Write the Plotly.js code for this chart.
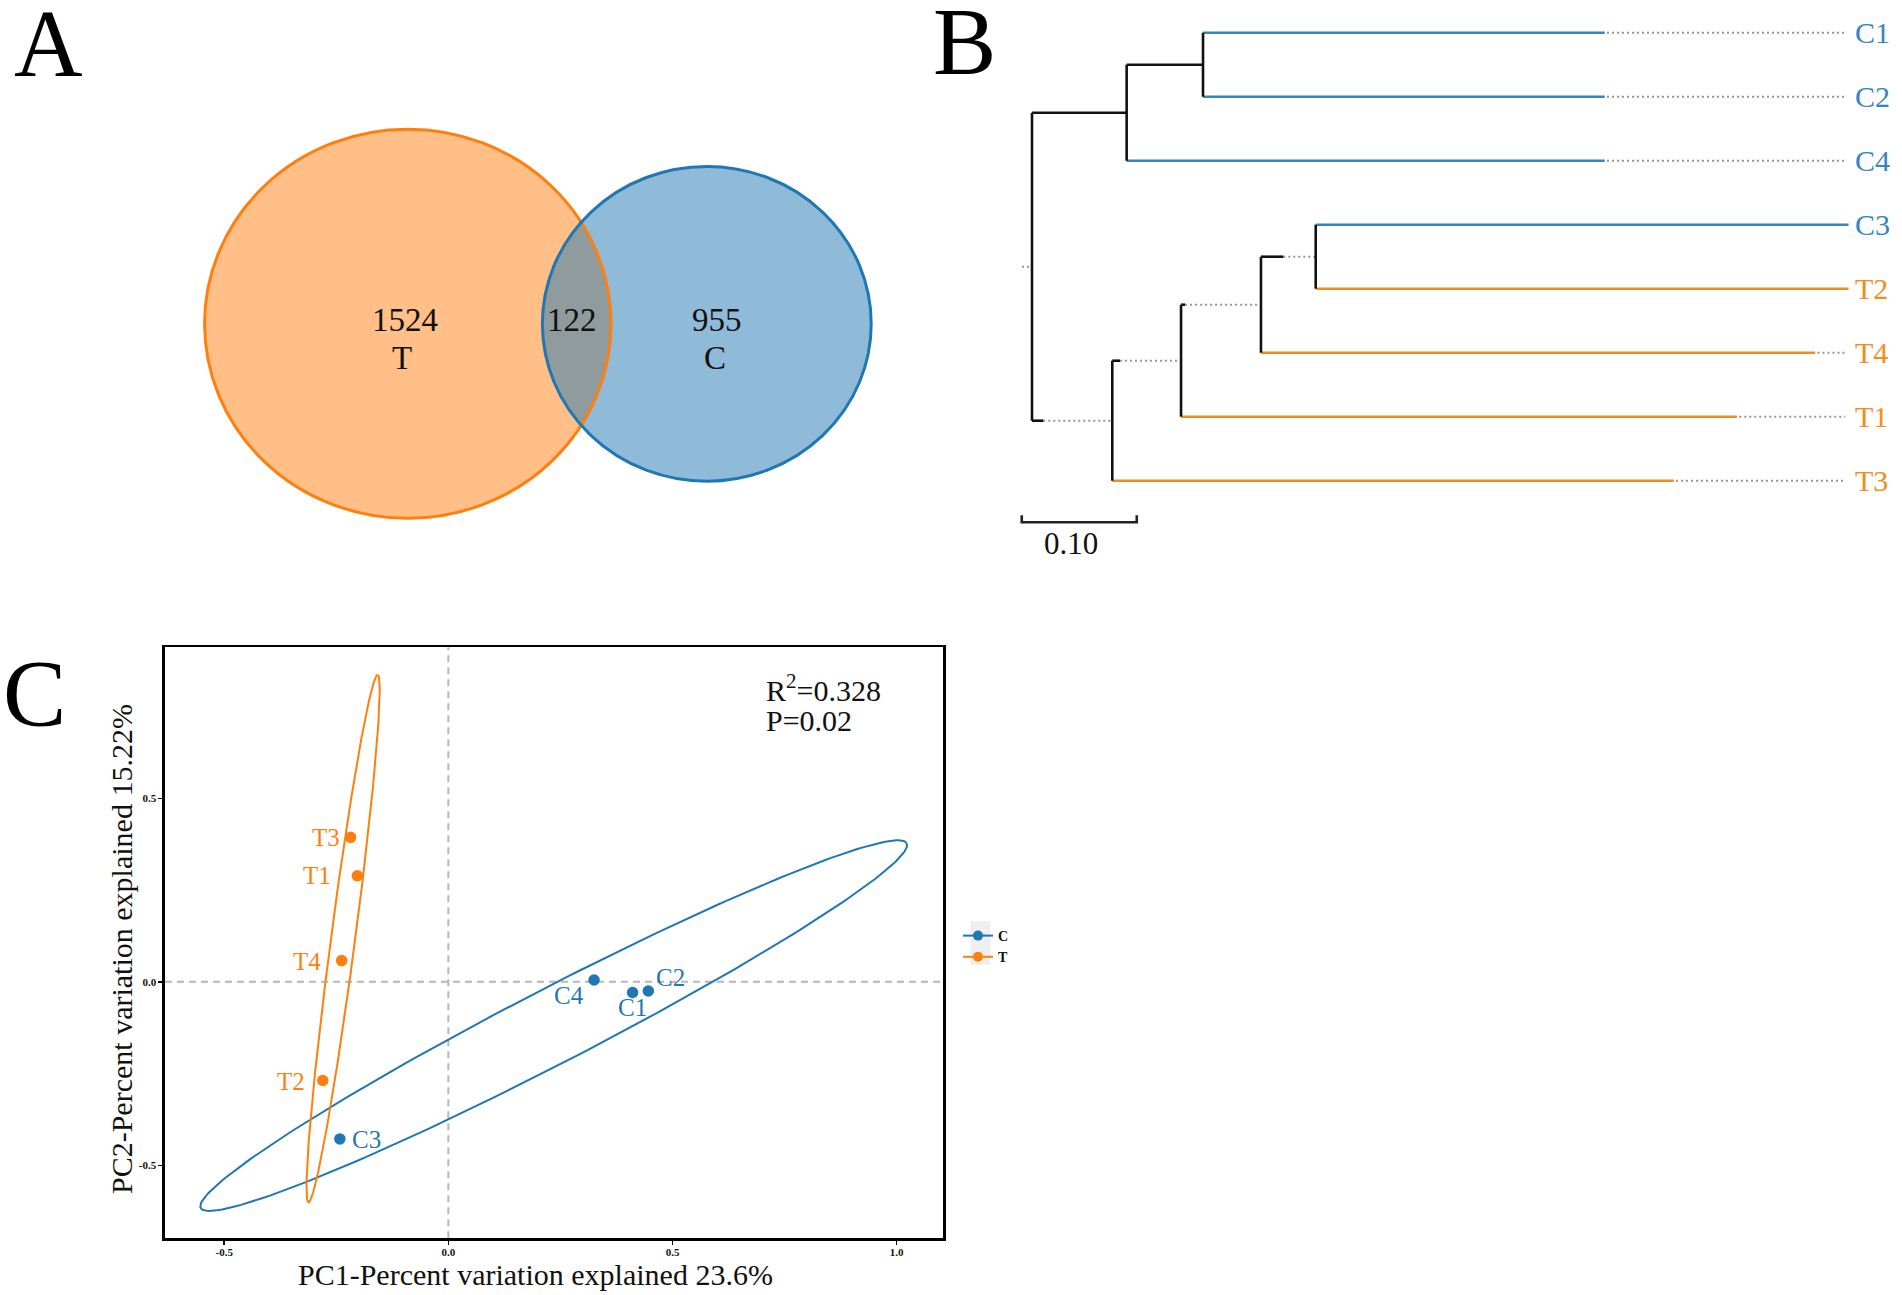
<!DOCTYPE html>
<html><head><meta charset="utf-8">
<script src="https://cdn.plot.ly/plotly-3.0.1.min.js"></script>
<style>html,body{margin:0;padding:0;background:#fff}</style>
</head><body><div id="chart" style="width:1902px;height:1295px"></div>
<script>
// ---------------- DATA ----------------
// Panel A: Venn
const vennSets = ['T', 'C'];
const vennUnique = [1524, 955];
const vennShared = 122;

// Panel B: clustering tree
const leafNames  = ['C1', 'C2', 'C4', 'C3', 'T2', 'T4', 'T1', 'T3'];
const leafGroup  = ['C', 'C', 'C', 'C', 'T', 'T', 'T', 'T'];
const leafParent = ['A', 'A', 'B', 'G', 'G', 'F', 'E', 'D'];
const leafDepth  = [0.498, 0.498, 0.498, 0.710, 0.710, 0.681, 0.613, 0.558];
const nodeNames  = ['root', 'B', 'A', 'D', 'E', 'F', 'G'];
const nodeParent = [null, 'root', 'B', 'root', 'D', 'E', 'F'];
const nodeDepth  = [0, 0.0823, 0.1487, 0.0698, 0.1296, 0.1991, 0.2467];
const scaleBarLength = 0.10;
const scaleBarLabel = '0.10';

// Panel C: PCoA
const sampleNames = ['C1', 'C2', 'C3', 'C4', 'T1', 'T2', 'T3', 'T4'];
const sampleGroup = ['C', 'C', 'C', 'C', 'T', 'T', 'T', 'T'];
const pc1 = [0.411, 0.446, -0.242, 0.325, -0.203, -0.280, -0.218, -0.238];
const pc2 = [-0.029, -0.025, -0.428, 0.005, 0.289, -0.269, 0.394, 0.058];
const xTickVals = [-0.5, 0, 0.5, 1.0];
const xTickText = ['-0.5', '0.0', '0.5', '1.0'];
const yTickVals = [-0.5, 0, 0.5];
const yTickText = ['-0.5', '0.0', '0.5'];
const statLines = ['R<sup>2</sup>=0.328', 'P=0.02'];
const xTitle = 'PC1-Percent variation explained 23.6%';
const yTitle = 'PC2-Percent variation explained 15.22%';

// ---------------- STYLE ----------------
const W = 1902, H = 1295;
const px = v => v / W;
const py = v => 1 - v / H;
const SERIF = 'Liberation Serif, Times New Roman, serif';
const pcaColor  = {C: '#1f77b4', T: '#ff7f0e'};
const treeColor = {C: '#3585c3', T: '#f48c1c'};
const DOT = 'rgb(150,150,150)';

const traces = [];
const shapes = [];
const annotations = [];

// ---------------- PANEL A: Venn ----------------
const vennTotals = [vennUnique[0] + vennShared, vennUnique[1] + vennShared];
const kR = 4.794, stretch = 1.045;
const vennCenters = [[407.8, 323.8], [706.8, 323.8]];
const vennFill = ['rgba(255,127,14,0.5)', 'rgba(31,119,180,0.5)'];
const vennLine = ['#ff7f0e', '#1f77b4'];
vennTotals.forEach((tot, i) => {
  const ry = kR * Math.sqrt(tot), rx = ry * stretch;
  const [cx, cy] = vennCenters[i];
  shapes.push({type: 'circle', xref: 'x3', yref: 'y3', x0: cx - rx, x1: cx + rx, y0: cy - ry, y1: cy + ry,
    fillcolor: vennFill[i], line: {width: 0}, layer: 'above'});
});
vennTotals.forEach((tot, i) => {
  const ry = kR * Math.sqrt(tot), rx = ry * stretch;
  const [cx, cy] = vennCenters[i];
  shapes.push({type: 'circle', xref: 'x3', yref: 'y3', x0: cx - rx, x1: cx + rx, y0: cy - ry, y1: cy + ry,
    fillcolor: 'rgba(0,0,0,0)', line: {width: 3, color: vennLine[i]}, layer: 'above'});
});
const vennFont = {family: SERIF, size: 33, color: '#111'};
annotations.push(
  {xref: 'x3', yref: 'y3', x: 405, y: 320, text: String(vennUnique[0]), showarrow: false, font: vennFont},
  {xref: 'x3', yref: 'y3', x: 401.5, y: 358, text: vennSets[0], showarrow: false, font: vennFont},
  {xref: 'x3', yref: 'y3', x: 571.5, y: 320, text: String(vennShared), showarrow: false, font: vennFont},
  {xref: 'x3', yref: 'y3', x: 716.7, y: 320, text: String(vennUnique[1]), showarrow: false, font: vennFont},
  {xref: 'x3', yref: 'y3', x: 714.5, y: 358, text: vennSets[1], showarrow: false, font: vennFont}
);
traces.push({type: 'scatter', x: [null], y: [null], xaxis: 'x3', yaxis: 'y3', showlegend: false, hoverinfo: 'skip'});

// ---------------- PANEL B: Tree ----------------
const nodeIdx = {};
nodeNames.forEach((n, i) => nodeIdx[n] = i);
const branchStyle = {B: 'solid', A: 'solid', D: 'dotted', E: 'dotted', F: 'dotted', G: 'dotted'};
const branchStub  = {D: 0.0098, E: 0.0067, F: 0.0035, G: 0.0194};
const rootEdge = 0.0087;
const alignDepth = 0.7072;

const nodeY = {};
function yOf(name) {
  if (nodeY[name] !== undefined) return nodeY[name];
  const kids = [];
  leafParent.forEach((p, i) => { if (p === name) kids.push(i); });
  nodeParent.forEach((p, i) => { if (p === name) kids.push(yOf(nodeNames[i])); });
  const v = (Math.min(...kids) + Math.max(...kids)) / 2;
  nodeY[name] = v;
  return v;
}
nodeNames.forEach(n => yOf(n));
function childYs(name) {
  const ys = [];
  leafParent.forEach((p, i) => { if (p === name) ys.push(i); });
  nodeParent.forEach((p, i) => { if (p === name) ys.push(nodeY[nodeNames[i]]); });
  return ys;
}
const blk = {x: [], y: []}, dots = {x: [], y: []};
const colored = {C: {x: [], y: []}, T: {x: [], y: []}};
nodeNames.forEach((n, i) => {
  const ys = childYs(n), d = nodeDepth[i];
  blk.x.push(d, d, null); blk.y.push(Math.min(...ys), Math.max(...ys), null);
  const par = nodeParent[i];
  if (par !== null) {
    const pd = nodeDepth[nodeIdx[par]], y = nodeY[n];
    if (branchStyle[n] === 'solid') {
      blk.x.push(pd, d, null); blk.y.push(y, y, null);
    } else {
      const s = pd + branchStub[n];
      blk.x.push(pd, s, null); blk.y.push(y, y, null);
      dots.x.push(s, d, null); dots.y.push(y, y, null);
    }
  } else {
    dots.x.push(-rootEdge, 0, null); dots.y.push(nodeY[n], nodeY[n], null);
  }
});
leafNames.forEach((l, i) => {
  const pd = nodeDepth[nodeIdx[leafParent[i]]];
  const c = colored[leafGroup[i]];
  c.x.push(pd, leafDepth[i], null); c.y.push(i, i, null);
  if (leafDepth[i] < alignDepth - 0.003) {
    dots.x.push(leafDepth[i] + 0.002, alignDepth, null); dots.y.push(i, i, null);
  }
  annotations.push({xref: 'x2', yref: 'y2', x: alignDepth, y: i, xshift: 8, xanchor: 'left', yanchor: 'middle',
    text: l, showarrow: false, font: {family: SERIF, size: 30, color: treeColor[leafGroup[i]]}});
});
traces.push({type: 'scatter', mode: 'lines', x: dots.x, y: dots.y, xaxis: 'x2', yaxis: 'y2',
  line: {color: DOT, width: 2, dash: '2px,3px'}, showlegend: false, hoverinfo: 'skip'});
['C', 'T'].forEach(g => traces.push({type: 'scatter', mode: 'lines', x: colored[g].x, y: colored[g].y,
  xaxis: 'x2', yaxis: 'y2', line: {color: treeColor[g], width: 2.6}, showlegend: false, hoverinfo: 'skip'}));
traces.push({type: 'scatter', mode: 'lines', x: blk.x, y: blk.y, xaxis: 'x2', yaxis: 'y2',
  line: {color: '#111', width: 2.6}, showlegend: false, hoverinfo: 'skip'});
// scale bar
const sb0 = -0.0089, sbY = 7.65, sbTick = 0.11;
traces.push({type: 'scatter', mode: 'lines', xaxis: 'x2', yaxis: 'y2',
  x: [sb0, sb0, sb0 + scaleBarLength, sb0 + scaleBarLength], y: [sbY - sbTick, sbY, sbY, sbY - sbTick],
  line: {color: '#222', width: 2.6}, showlegend: false, hoverinfo: 'skip'});
annotations.push({xref: 'x2', yref: 'y2', x: sb0 + scaleBarLength / 2, y: 7.98, xshift: -8, text: scaleBarLabel,
  showarrow: false, font: {family: SERIF, size: 31, color: '#111'}});

// ---------------- PANEL C: PCoA ----------------
const chi2 = -2 * Math.log(0.05);
function ellipse(xs, ys) {
  const n = xs.length;
  const mx = xs.reduce((a, b) => a + b, 0) / n, my = ys.reduce((a, b) => a + b, 0) / n;
  let sxx = 0, syy = 0, sxy = 0;
  for (let i = 0; i < n; i++) {
    sxx += (xs[i] - mx) ** 2; syy += (ys[i] - my) ** 2; sxy += (xs[i] - mx) * (ys[i] - my);
  }
  sxx /= n - 1; syy /= n - 1; sxy /= n - 1;
  const tr = sxx + syy, det = sxx * syy - sxy * sxy;
  const disc = Math.sqrt(Math.max(tr * tr / 4 - det, 0));
  const l1 = tr / 2 + disc, l2 = Math.max(tr / 2 - disc, 0);
  let vx = sxy, vy = l1 - sxx;
  const nrm = Math.hypot(vx, vy) || 1; vx /= nrm; vy /= nrm;
  const r = Math.sqrt(chi2), a = r * Math.sqrt(l1), b = r * Math.sqrt(l2);
  const ex = [], ey = [];
  for (let k = 0; k <= 240; k++) {
    const t = 2 * Math.PI * k / 240;
    ex.push(mx + a * Math.cos(t) * vx - b * Math.sin(t) * vy);
    ey.push(my + a * Math.cos(t) * vy + b * Math.sin(t) * vx);
  }
  return {x: ex, y: ey};
}
['C', 'T'].forEach(g => {
  const xs = pc1.filter((_, i) => sampleGroup[i] === g);
  const ys = pc2.filter((_, i) => sampleGroup[i] === g);
  const e = ellipse(xs, ys);
  traces.push({type: 'scatter', mode: 'lines', x: e.x, y: e.y, xaxis: 'x', yaxis: 'y',
    line: {color: pcaColor[g], width: 2}, showlegend: false, hoverinfo: 'skip'});
});
['C', 'T'].forEach(g => {
  traces.push({type: 'scatter', mode: 'markers', xaxis: 'x', yaxis: 'y',
    x: pc1.filter((_, i) => sampleGroup[i] === g), y: pc2.filter((_, i) => sampleGroup[i] === g),
    marker: {color: pcaColor[g], size: 11.5}, showlegend: false, hoverinfo: 'skip'});
});
['C', 'T'].forEach(g => {
  traces.push({type: 'scatter', mode: 'lines+markers', x: [null], y: [null], xaxis: 'x', yaxis: 'y', name: g,
    line: {color: pcaColor[g], width: 2}, marker: {color: pcaColor[g], size: 10}, showlegend: true});
});
const labelStyle = {
  C1: ['center', 0, -15], C2: ['left', 6, 14], C3: ['left', 10, -1], C4: ['right', -8, -15],
  T1: ['right', -24, 0], T2: ['right', -16, -1], T3: ['right', -9, 0], T4: ['right', -19, -1]
};
sampleNames.forEach((s, i) => {
  const st = labelStyle[s];
  annotations.push({xref: 'x', yref: 'y', x: pc1[i], y: pc2[i], text: s, showarrow: false,
    xanchor: st[0], yanchor: 'middle', xshift: st[1], yshift: st[2],
    font: {family: SERIF, size: 25, color: pcaColor[sampleGroup[i]]}});
});
annotations.push(
  {xref: 'paper', yref: 'paper', x: px(764), y: py(688), xanchor: 'left', yanchor: 'middle', text: statLines[0],
    showarrow: false, font: {family: SERIF, size: 30, color: '#111'}},
  {xref: 'paper', yref: 'paper', x: px(764), y: py(720), xanchor: 'left', yanchor: 'middle', text: statLines[1],
    showarrow: false, font: {family: SERIF, size: 30, color: '#111'}},
  {xref: 'paper', yref: 'paper', x: px(535.5), y: py(1274), xanchor: 'center', yanchor: 'middle', text: xTitle,
    showarrow: false, font: {family: SERIF, size: 30, color: '#111'}},
  {xref: 'paper', yref: 'paper', x: px(121), y: py(949), xanchor: 'center', yanchor: 'middle', text: yTitle,
    textangle: -90, showarrow: false, font: {family: SERIF, size: 30, color: '#111'}}
);
shapes.push(
  {type: 'line', xref: 'x', yref: 'y domain', x0: 0, x1: 0, y0: 0, y1: 1, layer: 'below',
    line: {color: '#b8b8b8', width: 2, dash: '7px,5px'}},
  {type: 'line', xref: 'x domain', yref: 'y', x0: 0, x1: 1, y0: 0, y1: 0, layer: 'below',
    line: {color: '#b8b8b8', width: 2, dash: '7px,5px'}},
  {type: 'rect', xref: 'paper', yref: 'paper', x0: px(970.5), x1: px(990.5), y0: py(965), y1: py(921),
    fillcolor: '#efefef', line: {width: 0}, layer: 'below'}
);

// panel letters
const letterFont = {family: SERIF, size: 95, color: '#000'};
annotations.push(
  {xref: 'paper', yref: 'paper', x: px(12), y: py(43.5), xanchor: 'left', yanchor: 'middle', text: 'A', showarrow: false, font: letterFont},
  {xref: 'paper', yref: 'paper', x: px(931), y: py(42), xanchor: 'left', yanchor: 'middle', text: 'B', showarrow: false, font: letterFont},
  {xref: 'paper', yref: 'paper', x: px(1), y: py(694), xanchor: 'left', yanchor: 'middle', text: 'C', showarrow: false, font: letterFont}
);

const tickFont = {family: SERIF, size: 11, color: '#111', weight: 'bold'};
const layout = {
  width: W, height: H, margin: {l: 0, r: 0, t: 0, b: 0},
  paper_bgcolor: '#fff', plot_bgcolor: 'rgba(0,0,0,0)',
  showlegend: true,
  legend: {x: px(958), y: py(920), xanchor: 'left', yanchor: 'top', bgcolor: 'rgba(0,0,0,0)',
    font: {family: SERIF, size: 14, color: '#111', weight: 'bold'}, itemwidth: 30, tracegroupgap: 0},
  xaxis: {domain: [px(165), px(943.3)], range: [-0.632, 1.104], anchor: 'y',
    showline: true, mirror: true, linecolor: '#000', linewidth: 2.6, showgrid: false, zeroline: false,
    ticks: 'outside', ticklen: 4, tickwidth: 1.5, tickcolor: '#000', ticklabelstandoff: -2,
    tickmode: 'array', tickvals: xTickVals, ticktext: xTickText, tickfont: tickFont},
  yaxis: {domain: [py(1238.3), py(647.3)], range: [-0.699, 0.912], anchor: 'x',
    showline: true, mirror: true, linecolor: '#000', linewidth: 2.6, showgrid: false, zeroline: false,
    ticks: 'outside', ticklen: 4, tickwidth: 1.5, tickcolor: '#000',
    tickmode: 'array', tickvals: yTickVals, ticktext: yTickText, tickfont: tickFont},
  xaxis2: {domain: [px(1000), px(1860)], range: [-32 / 1150, 828 / 1150], anchor: 'y2', visible: false},
  yaxis2: {domain: [py(560), 1], range: [(560 - 32.7) / 64, -32.7 / 64], anchor: 'x2', visible: false},
  xaxis3: {domain: [0, px(950)], range: [0, 950], anchor: 'y3', visible: false},
  yaxis3: {domain: [py(560), 1], range: [560, 0], anchor: 'x3', visible: false},
  shapes: shapes, annotations: annotations
};
Plotly.newPlot('chart', traces, layout, {displayModeBar: false, staticPlot: true});
</script></body></html>
